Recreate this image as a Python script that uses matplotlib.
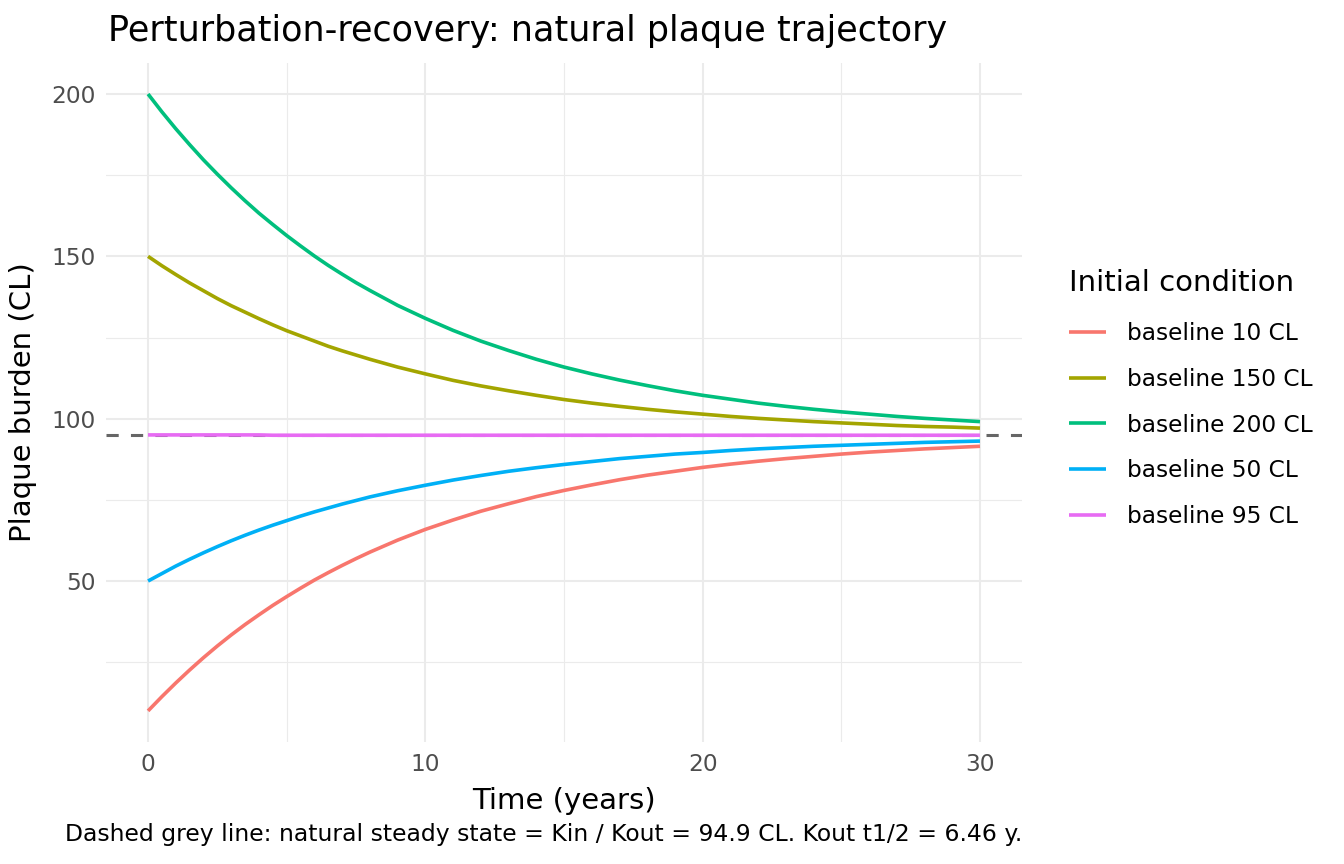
import matplotlib
matplotlib.use("Agg")
import matplotlib.pyplot as plt

# values (half-yearly for the steep early part, then yearly)
years = [0, 0.5, 1, 1.5, 2, 2.5, 3, 3.5, 4, 4.5, 5, 5.5, 6, 6.5, 7, 7.5, 8,
         9, 10, 11, 12, 13, 14, 15, 16, 17, 18, 19, 20,
         21, 22, 23, 24, 25, 26, 27, 28, 29, 30]
base_10 = [10.0, 14.4, 18.6, 22.6, 26.4, 30.0, 33.4, 36.6, 39.6, 42.5, 45.2, 47.8,
           50.3, 52.6, 54.8, 56.9, 58.9,
           62.6, 65.9, 68.8, 71.5, 73.8, 76.0, 77.9, 79.6, 81.2, 82.6, 83.8, 85.0,
           86.0, 86.9, 87.7, 88.4, 89.1, 89.7, 90.2, 90.7, 91.1, 91.5]
base_150 = [150.0, 147.1, 144.4, 141.8, 139.4, 137.0, 134.8, 132.8, 130.8, 128.9, 127.1, 125.5,
            123.9, 122.3, 120.9, 119.6, 118.3,
            115.9, 113.8, 111.8, 110.1, 108.6, 107.2, 105.9, 104.8, 103.8, 102.9, 102.1, 101.4,
            100.7, 100.1, 99.6, 99.1, 98.7, 98.3, 97.9, 97.6, 97.4, 97.1]
base_200 = [200.0, 194.5, 189.3, 184.4, 179.7, 175.3, 171.1, 167.1, 163.3, 159.8, 156.4, 153.2,
            150.1, 147.2, 144.5, 141.9, 139.5,
            134.9, 130.9, 127.2, 123.9, 121.0, 118.3, 115.9, 113.8, 111.9, 110.2, 108.6, 107.2,
            106.0, 104.8, 103.8, 102.9, 102.1, 101.4, 100.7, 100.1, 99.6, 99.1]
base_50 = [50.0, 52.3, 54.6, 56.7, 58.7, 60.6, 62.4, 64.1, 65.7, 67.2, 68.6, 70.0,
           71.3, 72.5, 73.7, 74.8, 75.9,
           77.8, 79.5, 81.1, 82.5, 83.8, 84.9, 85.9, 86.8, 87.7, 88.4, 89.1, 89.6,
           90.2, 90.7, 91.1, 91.5, 91.8, 92.1, 92.4, 92.7, 92.9, 93.1]
base_95 = [95.0] * 9 + [94.9] * 30

series_labels = ["baseline 10 CL", "baseline 150 CL", "baseline 200 CL",
                 "baseline 50 CL", "baseline 95 CL"]
series_values = [base_10, base_150, base_200, base_50, base_95]
colors = ["#F8766D", "#A3A500", "#00BF7D", "#00B0F6", "#E76BF3"]
steady_state = 94.9

fig = plt.figure(figsize=(6.72, 4.32), dpi=200)
ax = fig.add_axes([0.0792, 0.1415, 0.7601 - 0.0792, 0.9269 - 0.1415])

ax.axhline(steady_state, color="#666666", lw=1.1, ls=(0, (4, 4)), zorder=2)
for lab, vals, c in zip(series_labels, series_values, colors):
    ax.plot(years, vals, color=c, lw=1.3, label=lab, zorder=3, solid_capstyle="butt")

ax.set_xlim(-1.5, 31.5)
ax.set_ylim(0.5, 209.5)
ax.set_xticks([0, 10, 20, 30])
ax.set_yticks([50, 100, 150, 200])
ax.set_xticks([5, 15, 25], minor=True)
ax.set_yticks([25, 75, 125, 175], minor=True)
ax.grid(which="major", color="#EBEBEB", lw=0.75)
ax.grid(which="minor", color="#EBEBEB", lw=0.4)
ax.set_axisbelow(True)
for s in ax.spines.values():
    s.set_visible(False)
ax.tick_params(which="both", length=0, labelsize=8.4, labelcolor="#4D4D4D", pad=4)

ax.set_xlabel("Time (years)", fontsize=10.5, labelpad=4)
ax.set_ylabel("Plaque burden (CL)", fontsize=10.5, labelpad=5)
fig.text(108 / 1344, 1 - 41 / 864, "Perturbation-recovery: natural plaque trajectory",
         fontsize=12.6, ha="left", va="baseline")
fig.text(1022 / 1344, 1 - 835 / 864,
         "Dashed grey line: natural steady state = Kin / Kout = 94.9 CL. Kout t1/2 = 6.46 y.",
         fontsize=8.45, ha="right", va="center")

leg = ax.legend(loc="upper left", bbox_to_anchor=(1048 / 1344, 1 - 250 / 864),
                bbox_transform=fig.transFigure, frameon=False,
                title="Initial condition", title_fontsize=10.5, fontsize=8.4,
                handlelength=1.6, handletextpad=0.9, labelspacing=0.98)
leg._legend_box.align = "left"
leg.get_title().set_position((0, 2))

fig.savefig("out.png", dpi=200)
